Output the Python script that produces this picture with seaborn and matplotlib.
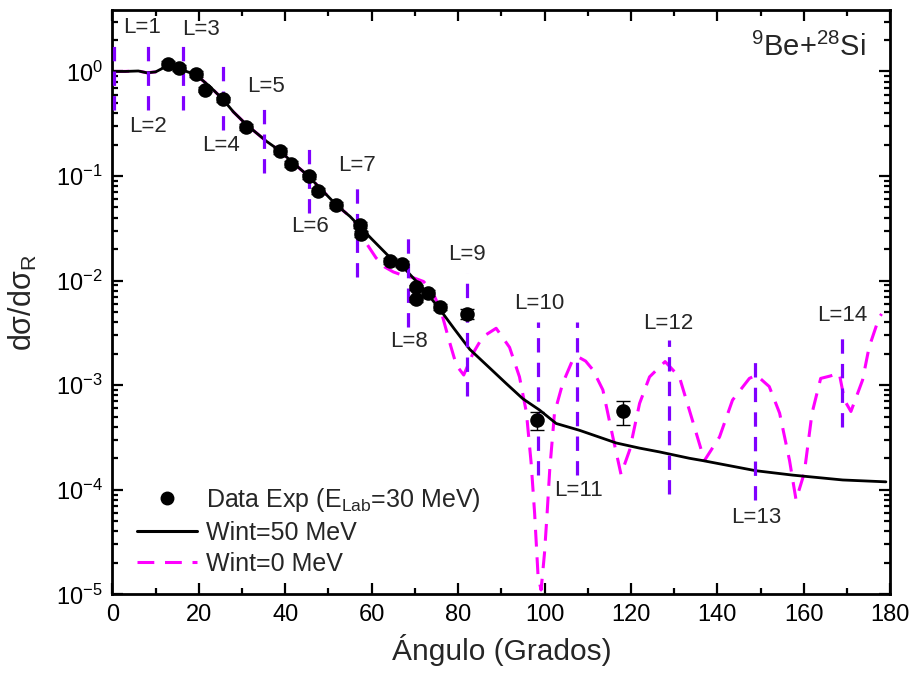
import numpy as np
import pandas as pd
import matplotlib
matplotlib.use("Agg")
import matplotlib.pyplot as plt
from matplotlib.lines import Line2D
import seaborn as sns

# ---- experimental data (9Be + 28Si, E_lab = 30 MeV) ----
ang_exp = [12.9, 15.4, 19.3, 21.4, 25.5, 31.0, 38.7, 41.4, 45.5, 47.6, 51.8,
           57.2, 57.5, 64.2, 67.1, 70.2, 70.3, 73.0, 75.7, 82.1, 98.2, 118.1]
sig_exp = [1.19, 1.08, 0.94, 0.67, 0.54, 0.294, 0.174, 0.131, 0.099, 0.072, 0.053,
           0.034, 0.028, 0.0155, 0.0145, 0.0086, 0.0066, 0.0076, 0.0056, 0.0048,
           4.65e-4, 5.6e-4]
err_exp = [0.08, 0.07, 0.06, 0.04, 0.035, 0.02, 0.011, 0.008, 0.006, 0.0045, 0.0033,
           0.0022, 0.0018, 0.001, 0.0009, 0.00055, 0.00042, 0.0005, 0.00036, 0.0005,
           0.9e-4, 1.4e-4]

# ---- optical-model calculation, Wint = 50 MeV ----
ang_w50 = [0, 3, 6, 8, 10, 12.5, 15, 18, 20, 22.5, 25.6, 28, 31, 35.7, 38.7, 41.4,
           45, 48, 51.8, 55, 57.2, 60, 64, 68, 72, 75.5, 79, 82.7, 87, 91.1, 95,
           98.8, 102.7, 108.1, 116.6, 122, 126.6, 133.5, 136.6, 148.9, 157.4, 169, 179]
sig_w50 = [1.0, 1.0, 1.01, 0.97, 0.99, 1.12, 1.08, 0.97, 0.88, 0.72, 0.54, 0.41,
           0.31, 0.214, 0.175, 0.138, 0.103, 0.077, 0.053, 0.041, 0.033, 0.025,
           0.017, 0.0125, 0.0083, 0.0055, 0.0035, 0.0022, 0.0015, 0.00104, 0.00074,
           0.00058, 0.00043, 0.00037, 0.00028, 0.00025, 0.00023, 0.0002, 0.00019,
           0.000152, 0.000138, 0.000124, 0.000119]

# ---- optical-model calculation, Wint = 0 MeV ----
ang_w0 = [0, 3, 6, 8, 10, 12.5, 15, 18, 20, 22.5, 25.6, 28, 31, 35.7, 38.7, 41.4,
          45, 48, 51.8, 55, 57, 59, 61, 63, 65, 67, 69.5, 72, 74, 76, 78, 79.6,
          81.3, 83.4, 85.7, 88.8, 91.9, 94.2, 95.8, 96.9, 97.7, 98.5, 99.2, 100.0,
          100.6, 101.2, 102.3, 104.2, 106.5, 107.7, 109.5, 111.2, 113.5, 115.8,
          117.7, 119.7, 122, 124.3, 127.9, 131.2, 134.3, 137, 140.5, 143.5, 147.4,
          149, 152, 154.4, 156.7, 158.2, 160.1, 161.9, 163.9, 166, 168.2, 169.4,
          170.9, 173.6, 175.1, 177.4, 178]
sig_w0 = [1.0, 1.0, 1.01, 0.97, 0.99, 1.12, 1.08, 0.97, 0.88, 0.72, 0.54, 0.41,
          0.31, 0.214, 0.175, 0.138, 0.103, 0.077, 0.053, 0.041, 0.033, 0.022,
          0.0165, 0.0135, 0.0121, 0.0113, 0.0107, 0.0098, 0.0079, 0.0052, 0.0026,
          0.00155, 0.00125, 0.0020, 0.0029, 0.0035, 0.0023, 0.0012, 0.00055,
          0.00018, 6e-5, 1.5e-5, 1.1e-5, 2.5e-5, 6e-5, 1.55e-4, 5.4e-4, 1.04e-3,
          1.74e-3, 1.87e-3, 1.7e-3, 1.4e-3, 9e-4, 3.2e-4, 1.4e-4, 2.4e-4, 6.7e-4,
          1.2e-3, 1.68e-3, 1.2e-3, 4.5e-4, 1.9e-4, 3.2e-4, 7.2e-4, 1.16e-3,
          1.25e-3, 9.7e-4, 5.4e-4, 1.9e-4, 8e-5, 1.44e-4, 5.4e-4, 1.16e-3, 1.22e-3,
          1.3e-3, 7.2e-4, 5.6e-4, 1.12e-3, 2.3e-3, 4.4e-3, 4.8e-3]

# ---- grazing markers for partial waves L ----
L_values = list(range(1, 15))
L_angle = [0.3, 8.3, 16.4, 25.6, 35.1, 45.4, 56.5, 68.4, 82.1, 98.6, 107.6,
           128.7, 148.8, 168.8]
L_low = [0.43, 0.43, 0.43, 0.277, 0.107, 0.0442, 0.0109, 0.00363, 7.8e-4,
         1.38e-4, 1.38e-4, 9.2e-5, 8.0e-5, 4.0e-4]
L_high = [2.01, 2.01, 2.01, 1.29, 0.50, 0.199, 0.092, 0.0306, 0.0118,
          4.05e-3, 4.05e-3, 2.71e-3, 2.02e-3, 3.02e-3]

# label anchor points (angle, cross section)
L_text_x = [6.8, 8.3, 20.6, 25.2, 35.6, 45.7, 56.5, 68.6, 82.0, 98.8, 107.9,
            128.7, 149.1, 169.0]
L_text_y = [2.62, 0.30, 2.5, 0.194, 0.71, 0.0329, 0.125, 0.0026, 0.0176, 0.006,
            9.9e-5, 3.9e-3, 5.4e-5, 4.6e-3]

exp_df = pd.DataFrame({"ang": ang_exp, "sig": sig_exp, "err": err_exp})
w50_df = pd.DataFrame({"ang": ang_w50, "sig": sig_w50})
w0_df = pd.DataFrame({"ang": ang_w0, "sig": sig_w0})

sns.set_theme(style="ticks")
plt.rcParams["font.family"] = ["Liberation Sans", "DejaVu Sans"]
plt.rcParams["mathtext.fontset"] = "custom"
plt.rcParams["mathtext.rm"] = "Liberation Sans"
plt.rcParams["mathtext.it"] = "Liberation Sans:italic"
plt.rcParams["mathtext.bf"] = "Liberation Sans:bold"
plt.rcParams["axes.unicode_minus"] = False

fig = plt.figure(figsize=(9.14, 6.8), dpi=100)
ax = fig.add_axes([0.123, 0.126, 0.851, 0.859])

magenta = "#FF00FF"
violet = "#8000FF"

sns.lineplot(data=w0_df, x="ang", y="sig", ax=ax, color=magenta, lw=2.2,
             linestyle=(0, (5.5, 3.5)), estimator=None, sort=False, zorder=2)
sns.lineplot(data=w50_df, x="ang", y="sig", ax=ax, color="black", lw=2.0,
             estimator=None, sort=False, zorder=3)

ax.vlines(L_angle, L_low, L_high, colors=violet, linestyles=(0, (4.5, 3.2)),
          lw=2.3, zorder=4)
for L, tx, ty in zip(L_values, L_text_x, L_text_y):
    ax.text(tx, ty, f"L={L}", ha="center", va="center", fontsize=16, zorder=6)

ax.errorbar(exp_df["ang"], exp_df["sig"], yerr=exp_df["err"], fmt="none",
            ecolor="black", elinewidth=1, capsize=5, capthick=1, zorder=5)
sns.scatterplot(data=exp_df, x="ang", y="sig", ax=ax, color="black", s=110,
                edgecolor="black", linewidth=0, zorder=6)

ax.set_yscale("log")
ax.set_xlim(0, 180)
ax.set_ylim(1e-5, 3.85)
ax.set_xticks(np.arange(0, 181, 20))
ax.set_xticks(np.arange(10, 180, 20), minor=True)
ax.yaxis.set_major_locator(matplotlib.ticker.LogLocator(base=10, numticks=10))
ax.yaxis.set_minor_locator(matplotlib.ticker.LogLocator(base=10, subs=np.arange(2, 10), numticks=20))
ax.yaxis.set_minor_formatter(matplotlib.ticker.NullFormatter())

for side in ["left", "right", "top", "bottom"]:
    ax.spines[side].set_visible(True)
    ax.spines[side].set_linewidth(2.0)
    ax.spines[side].set_color("black")
ax.tick_params(which="both", direction="in", top=True, right=True,
               colors="black", labelsize=17)
ax.tick_params(which="major", length=8, width=1.6, pad=7)
ax.tick_params(which="minor", length=4.5, width=1.6)

ax.set_xlabel("Ángulo (Grados)", fontsize=21.5, labelpad=6)
ax.set_ylabel(r"dσ/dσ$_\mathregular{R}$", fontsize=22, labelpad=12)

ax.text(0.968, 0.937, r"$^\mathregular{9}$Be+$^\mathregular{28}$Si", transform=ax.transAxes,
        ha="right", va="center", fontsize=21)

handles = [
    Line2D([], [], ls="none", marker="o", color="black", ms=9),
    Line2D([], [], color="black", lw=2.2),
    Line2D([], [], color=magenta, lw=2.2, ls=(0, (5.5, 3.5))),
]
labels = [r"Data Exp (E$_\mathregular{Lab}$=30 MeV)", "Wint=50 MeV", "Wint=0 MeV"]
ax.legend(handles, labels, loc="lower left", bbox_to_anchor=(0.012, 0.006),
          frameon=False, fontsize=18, handlelength=2.4, handletextpad=0.35,
          labelspacing=0.28, borderaxespad=0.2)

fig.savefig("out.png", dpi=100)
